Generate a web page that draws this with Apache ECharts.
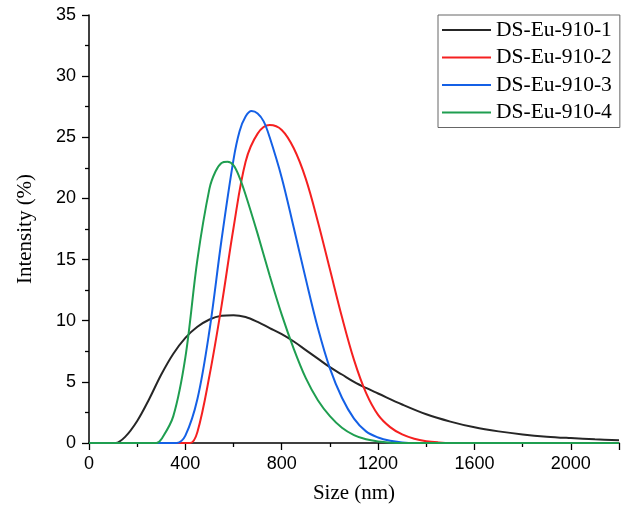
<!DOCTYPE html>
<html>
<head>
<meta charset="utf-8">
<script src="https://cdn.jsdelivr.net/npm/echarts@6/dist/echarts.min.js"></script>
<style>
html,body{margin:0;padding:0;background:#fff;}
#chart{width:628px;height:510px;}
</style>
</head>
<body>
<div id="chart"></div>
<script>
const seriesNames = ['DS-Eu-910-1', 'DS-Eu-910-2', 'DS-Eu-910-3', 'DS-Eu-910-4'];
const xTicks = [0, 400, 800, 1200, 1600, 2000];

const size1 = [0, 100, 110, 150, 200, 250, 300, 350, 400, 450, 500, 550, 600, 650, 700, 750, 800, 850, 900, 950, 1000, 1050, 1100, 1150, 1200, 1300, 1400, 1500, 1600, 1700, 1800, 1900, 2000, 2100, 2200];
const int1 = [0, 0, 0, 0.5, 1.8, 3.6, 5.6, 7.3, 8.6, 9.5, 10.1, 10.4, 10.45, 10.3, 9.9, 9.4, 8.9, 8.3, 7.6, 6.9, 6.2, 5.6, 5.0, 4.5, 4.05, 3.15, 2.35, 1.75, 1.28, 0.95, 0.7, 0.52, 0.4, 0.3, 0.22];

const size2 = [0, 400, 420, 450, 500, 550, 600, 650, 700, 750, 800, 850, 900, 950, 1000, 1050, 1100, 1150, 1200, 1250, 1300, 1350, 1400, 1450, 1500, 2200];
const int2 = [0, 0, 0, 0.9, 5.5, 11.2, 17.6, 23.0, 25.3, 26.0, 25.6, 24.1, 21.6, 18.1, 14.2, 10.3, 6.8, 4.1, 2.3, 1.3, 0.7, 0.35, 0.15, 0.05, 0, 0];

const size3 = [0, 350, 365, 400, 450, 500, 550, 600, 625, 650, 675, 700, 725, 750, 800, 850, 900, 950, 1000, 1050, 1100, 1150, 1200, 1250, 1300, 1350, 2200];
const int3 = [0, 0, 0, 0.6, 3.6, 9.2, 16.6, 23.2, 25.5, 26.7, 27.15, 26.95, 26.3, 25.0, 21.7, 17.6, 13.4, 9.4, 6.1, 3.7, 2.0, 0.95, 0.45, 0.18, 0.05, 0, 0];

const size4 = [0, 280, 300, 350, 400, 450, 500, 525, 550, 575, 600, 625, 650, 700, 750, 800, 850, 900, 950, 1000, 1050, 1100, 1150, 1200, 1250, 1300, 2200];
const int4 = [0, 0, 0.3, 2.2, 7.0, 15.0, 20.8, 22.2, 22.9, 23.0, 22.7, 21.7, 20.3, 17.1, 13.7, 10.5, 7.7, 5.3, 3.5, 2.2, 1.25, 0.65, 0.3, 0.12, 0.03, 0, 0];

const colors = ['#262626', '#f52020', '#1460e6', '#1f9e50'];
const sizes = [size1, size2, size3, size4];
const ints = [int1, int2, int3, int4];

const chart = echarts.init(document.getElementById('chart'));
const serif = 'Liberation Serif';
const sans = 'Liberation Sans';

chart.setOption({
  animation: false,
  backgroundColor: '#fff',
  grid: { left: 89, right: 9, top: 15, bottom: 67, containLabel: false },
  legend: {
    data: seriesNames.map(n => ({ name: n, icon: 'path://M0,0H49V2.2H0Z' })),
    orient: 'vertical',
    left: 438, top: 15,
    borderColor: '#666', borderWidth: 1,
    padding: [4, 8, 4, 4],
    itemWidth: 49, itemHeight: 2.2, itemGap: 5.5, itemTextGap: 6,
    textStyle: { fontFamily: serif, fontSize: 21.5, color: '#000', lineHeight: 22 }
  },
  xAxis: {
    type: 'value', min: 0, max: 2200, interval: 400,
    name: 'Size (nm)', nameLocation: 'middle', nameGap: 40,
    nameTextStyle: { fontFamily: serif, fontSize: 21, color: '#000' },
    axisLine: { lineStyle: { color: '#000', width: 1.5 } },
    axisTick: { inside: false, length: 7, lineStyle: { color: '#000', width: 1.3 } },
    minorTick: { show: true, splitNumber: 2, length: 4, lineStyle: { color: '#000', width: 1.3 } },
    axisLabel: { fontFamily: sans, fontSize: 18, color: '#000', margin: 12,
      formatter: v => xTicks.includes(v) ? String(v) : '' },
    splitLine: { show: false }
  },
  yAxis: {
    type: 'value', min: 0, max: 35, interval: 5,
    name: 'Intensity (%)', nameLocation: 'middle', nameGap: 53,
    nameTextStyle: { fontFamily: serif, fontSize: 21, color: '#000' },
    axisLine: { show: true, lineStyle: { color: '#000', width: 1.5 } },
    axisTick: { show: true, inside: false, length: 7, lineStyle: { color: '#000', width: 1.3 } },
    minorTick: { show: true, splitNumber: 2, length: 4, lineStyle: { color: '#000', width: 1.3 } },
    axisLabel: { fontFamily: sans, fontSize: 18, color: '#000', margin: 13 },
    splitLine: { show: false }
  },
  series: seriesNames.map((name, i) => ({
    name: name,
    type: 'line',
    data: sizes[i].map((x, j) => [x, ints[i][j]]),
    smooth: 0.35,
    showSymbol: false,
    symbol: 'none',
    color: colors[i],
    lineStyle: { color: colors[i], width: 2 }
  }))
});
</script>
</body>
</html>
